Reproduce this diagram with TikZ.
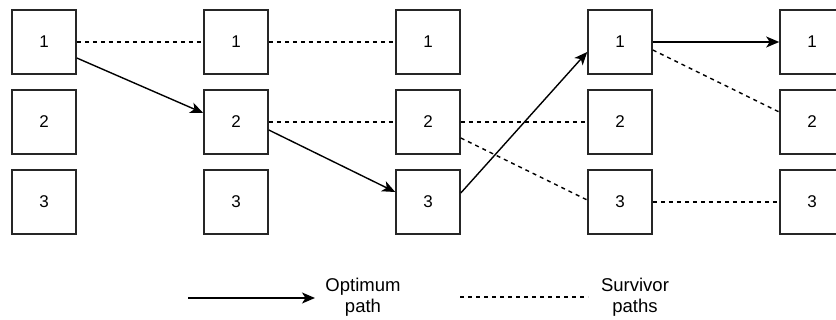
\documentclass[tikz,border=0pt]{standalone}
\usepackage{fontspec}
\setmainfont{Liberation Sans}
\usetikzlibrary{arrows.meta,calc}
\begin{document}
\begin{tikzpicture}[x=1pt,y=-1pt,
  statebox/.style={draw=black!85, line width=1.6pt, minimum size=64pt, inner sep=0pt, font=\fontsize{17}{20}\selectfont},
  optpath/.style={line width=1.4pt, -{Stealth[length=13pt,width=11pt,inset=3.5pt]}},
  survpath/.style={line width=1.4pt, dash pattern=on 4pt off 4pt},
  legtext/.style={align=center, font=\fontsize{18.5}{20.5}\selectfont}]
\useasboundingbox (0,0) rectangle (836,320);
\clip (0,0) rectangle (836,320);
% states
\foreach \c/\x in {1/44,2/236,3/428,4/620,5/812}{
  \foreach \r/\y in {1/42,2/122,3/202}{
    \node[statebox] (s\c\r) at (\x,\y) {\r};
  }
}
% survivor paths
\draw[survpath] (s11.east) -- (s21.west);
\draw[survpath] (s21.east) -- (s31.west);
\draw[survpath] (s22.east) -- (s32.west);
\draw[survpath] (s32.east) -- (s42.west);
\draw[survpath] ($(s32.east)+(0,16)$) -- ($(s43.west)+(0,-2)$);
\draw[survpath] (s43.east) -- (s53.west);
\draw[survpath] ($(s41.east)+(0,8)$) -- ($(s52.west)+(0,-10)$);
% optimum path
\draw[optpath] ($(s11.east)+(0,16)$) -- ($(s22.west)+(0,-9)$);
\draw[optpath] ($(s22.east)+(0,8)$) -- ($(s33.west)+(0,-10)$);
\draw[optpath] ($(s33.east)+(0,-9)$) -- ($(s41.west)+(0,10)$);
\draw[optpath] (s41.east) -- (s51.west);
% legend
\coordinate (l1s) at (188,298);
\coordinate (l1e) at (315,298);
\coordinate (l2s) at (460,297);
\coordinate (l2e) at (588,297);
\draw[optpath] (l1s) -- (l1e);
\node[legtext] (t1) at (363,297) {Optimum\\path};
\draw[survpath] (l2s) -- (l2e);
\node[legtext] (t2) at (635,297) {Survivor\\paths};
\end{tikzpicture}
\end{document}
